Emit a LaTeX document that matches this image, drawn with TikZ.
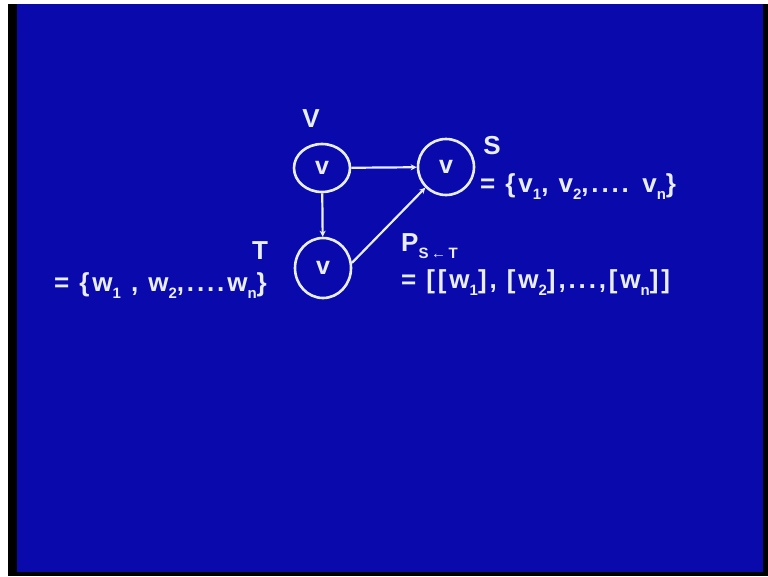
\documentclass[tikz,border=0pt]{standalone}
\usepackage{fontspec}
\setmainfont{Liberation Sans}
\newfontfamily\slidefont[LetterSpace=11]{Liberation Sans}
\usetikzlibrary{positioning,arrows.meta,shapes.geometric}
\definecolor{slideblue}{RGB}{10,10,172}
\definecolor{chalk}{RGB}{232,238,255}
\newcommand{\lowidx}[1]{\raisebox{-0.5ex}{\fontsize{15}{16}\selectfont #1}}
\tikzset{
  vnode/.style={ellipse,draw=chalk,line width=2.6pt,minimum width=56pt,minimum height=48pt,inner sep=0pt,text=chalk,font=\fontsize{25}{26}\selectfont\bfseries},
  edge/.style={chalk,line width=2.2pt,-{Stealth[length=6pt,width=6pt]}},
  lab/.style={text=chalk,font=\slidefont\fontsize{26}{28}\selectfont\bfseries,inner sep=0pt}
}
\begin{document}
\begin{tikzpicture}[x=1pt,y=-1pt]
  \useasboundingbox (0,0) rectangle (768,576);
  \fill[white] (0,0) rectangle (768,576);
  \fill[black] (8,4) rectangle (768,576);
  \fill[slideblue] (17,4) rectangle (763,572);
  % the three vertices
  \node[vnode,minimum height=48pt] (v) at (322,168) {v};
  \node[vnode,minimum height=56pt] (s) at (446,167) {v};
  \node[vnode,minimum height=60pt] (t) at (323,268) {v};
  \draw[edge] (v) -- (s); \draw[edge] (v) -- (t); \draw[edge] (t.10) -- (s.225);
  % labels and sets
  \node[lab] (vlab) at (311,119) {V};
  \node[lab] (slab) at (492,146) {S};
  \node[lab] (tlab) at (260,251) {T};
  \node[lab,anchor=west] (sset) at (480,187) {= \{v\lowidx{1}, v\lowidx{2},.... v\lowidx{n}\}};
  \node[lab,anchor=east] (tset) at (267,286) {= \{w\lowidx{1} , w\lowidx{2},....w\lowidx{n}\}};
  \node[lab,anchor=west] (pst) at (401,246) {P\lowidx{S\,←\,T}};
  \node[lab,anchor=west] (pset) at (401,283) {= [[w\lowidx{1}], [w\lowidx{2}],...,[w\lowidx{n}]]};
\end{tikzpicture}
\end{document}
